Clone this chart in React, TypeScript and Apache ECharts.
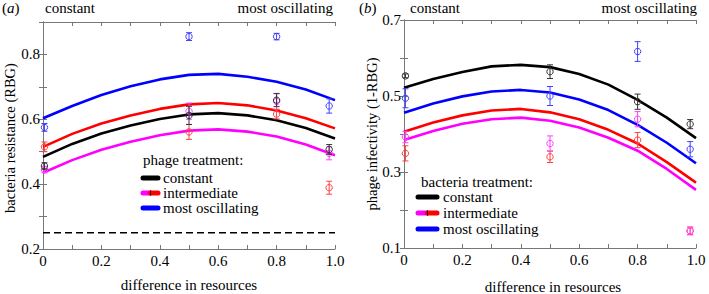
import React, { useEffect, useRef } from "react";
import * as echarts from "echarts";

// ---------- data ----------
const curveX = [0, 0.1, 0.2, 0.3, 0.4, 0.5, 0.6, 0.7, 0.8, 0.9, 1.0];

// panel (a): bacteria resistance (RBG)
const aBlueCurve = [0.603, 0.641, 0.675, 0.702, 0.723, 0.737, 0.74, 0.731, 0.716, 0.692, 0.659];
const aRedCurve = [0.515, 0.555, 0.587, 0.612, 0.632, 0.646, 0.65, 0.643, 0.627, 0.603, 0.572];
const aBlackCurve = [0.484, 0.524, 0.556, 0.581, 0.601, 0.615, 0.619, 0.612, 0.597, 0.573, 0.541];
const aMagentaCurve = [0.435, 0.474, 0.506, 0.531, 0.551, 0.565, 0.569, 0.562, 0.547, 0.522, 0.489];

const pointX = [0.005, 0.5, 0.8, 0.98];
const aBluePts = [0.575, 0.855, 0.855, 0.641];
const aBlueErr = [0.012, 0.012, 0.01, 0.022];
const aBlackPts = [0.456, 0.612, 0.659, 0.507];
const aBlackErr = [0.01, 0.028, 0.02, 0.015];
const aRedPts = [0.515, 0.561, 0.616, 0.389];
const aRedErr = [0.015, 0.023, 0.015, 0.02];
const aMagentaPts = [0.445, 0.625, 0.655, 0.495];
const aMagentaErr = [0.01, 0.025, 0.025, 0.02];
const aDashedLevel = 0.25;

// panel (b): phage infectivity (1-RBG)
const bBlackCurve = [0.522, 0.545, 0.563, 0.578, 0.582, 0.576, 0.558, 0.53, 0.49, 0.443, 0.389];
const bBlueCurve = [0.456, 0.48, 0.499, 0.512, 0.516, 0.509, 0.491, 0.463, 0.424, 0.377, 0.323];
const bRedCurve = [0.406, 0.43, 0.449, 0.462, 0.466, 0.457, 0.439, 0.411, 0.375, 0.326, 0.272];
const bMagentaCurve = [0.384, 0.408, 0.427, 0.439, 0.443, 0.435, 0.417, 0.39, 0.356, 0.308, 0.253];

const bBlackPts = [0.553, 0.564, 0.485, 0.426];
const bBlackErr = [0.005, 0.018, 0.02, 0.012];
const bBluePts = [0.494, 0.5, 0.617, 0.36];
const bBlueErr = [0.025, 0.025, 0.026, 0.02];
const bRedPts = [0.349, 0.34, 0.384, 0.145];
const bRedErr = [0.02, 0.015, 0.02, 0.01];
const bMagentaPts = [0.392, 0.375, 0.439, 0.145];
const bMagentaErr = [0.015, 0.02, 0.02, 0.01];

const legendItems = ["constant", "intermediate", "most oscillating"];
const xTickLabels = ["0", "0.2", "0.4", "0.6", "0.8", "1.0"];
const aYTickLabels = ["0.2", "0.4", "0.6", "0.8"];
const bYTickLabels = ["0.1", "0.3", "0.5", "0.7"];

// ---------- styling ----------
const FONT = "'Liberation Serif', 'Times New Roman', 'DejaVu Serif', serif";
const FS = 15;
const C = { black: "#000000", red: "#ff0000", magenta: "#ff00ff", blue: "#0000ff" };
const P = { black: "#333333", red: "#ff4040", magenta: "#ff40ff", blue: "#4040ff" };
const FRAME = "#777777";

function curveSeries(values: number[], color: string, idx: number) {
  return {
    type: "line",
    xAxisIndex: idx,
    yAxisIndex: idx,
    data: curveX.map((x, i) => [x, values[i]]),
    showSymbol: false,
    smooth: false,
    lineStyle: { color, width: 2.6 },
    z: 3,
  };
}

function errSeries(vals: number[], errs: number[], color: string, idx: number) {
  return {
    type: "custom",
    xAxisIndex: idx,
    yAxisIndex: idx,
    clip: false,
    z: 4,
    data: pointX.map((x, i) => [x, vals[i], errs[i]]),
    renderItem: (_params: any, api: any) => {
      const x = api.value(0);
      const y = api.value(1);
      const e = api.value(2);
      const p = api.coord([x, y]);
      const t = api.coord([x, y + e]);
      const b = api.coord([x, y - e]);
      const cap = 3;
      const st = { stroke: color, lineWidth: 1, fill: "none" };
      return {
        type: "group",
        children: [
          { type: "line", shape: { x1: p[0], y1: t[1], x2: p[0], y2: b[1] }, style: st },
          { type: "line", shape: { x1: p[0] - cap, y1: t[1], x2: p[0] + cap, y2: t[1] }, style: st },
          { type: "line", shape: { x1: p[0] - cap, y1: b[1], x2: p[0] + cap, y2: b[1] }, style: st },
          { type: "circle", shape: { cx: p[0], cy: p[1], r: 3.2 }, style: st },
        ],
      };
    },
  };
}

function pickLabel(v: number, labels: string[]) {
  const s = v === 0 ? "0" : v.toFixed(1);
  return labels.includes(s) ? s : "";
}

function xAxes(gridIndex: number) {
  const base = {
    type: "value",
    gridIndex,
    min: 0,
    max: 1,
    interval: 0.1,
    splitLine: { show: false },
    axisLine: { lineStyle: { color: FRAME, width: 1 } },
    axisTick: { inside: true, length: 4, lineStyle: { color: FRAME } },
  };
  return [
    {
      ...base,
      position: "bottom",
      axisLabel: {
        margin: 4,
        color: "#000",
        fontFamily: FONT,
        fontSize: FS,
        formatter: (v: number) => pickLabel(v, xTickLabels),
      },
    },
    { ...base, position: "top", axisLabel: { show: false } },
  ];
}

function yAxes(gridIndex: number, min: number, max: number, labels: string[]) {
  const base = {
    type: "value",
    gridIndex,
    min,
    max,
    interval: 0.1,
    splitLine: { show: false },
    axisLine: { show: true, lineStyle: { color: FRAME, width: 1 } },
    axisTick: { show: true, inside: true, length: 4, lineStyle: { color: FRAME } },
  };
  return [
    {
      ...base,
      position: "left",
      axisLabel: {
        margin: 3,
        color: "#000",
        fontFamily: FONT,
        fontSize: FS,
        formatter: (v: number) => pickLabel(v, labels),
      },
    },
    { ...base, position: "right", axisLabel: { show: false } },
  ];
}

function txt(text: string, x: number, y: number, align = "left", extra: any = {}, size = FS) {
  return {
    type: "text",
    x,
    y,
    z: 10,
    ...extra,
    style: {
      text,
      fill: "#000",
      fontFamily: FONT,
      fontSize: size,
      textAlign: align,
      textVerticalAlign: "middle",
    },
  };
}

function panelLabel(letter: string, x: number, y: number) {
  return {
    type: "text",
    x,
    y,
    style: {
      text: `({i|${letter}})`,
      fill: "#000",
      fontFamily: FONT,
      fontSize: FS,
      textVerticalAlign: "middle",
      rich: { i: { fontStyle: "italic", fontFamily: FONT, fontSize: FS } },
    },
  };
}

function swatch(x1: number, x2: number, y: number, color: string) {
  return {
    type: "line",
    z: 10,
    shape: { x1, y1: y, x2, y2: y },
    style: { stroke: color, lineWidth: 5, lineCap: "round" },
  };
}

function legend(titleText: string, tx: number, ty: number, sx1: number, sx2: number, textX: number, rows: number[]) {
  const mid = (sx1 + sx2) / 2;
  return [
    txt(titleText, tx, ty),
    swatch(sx1, sx2, rows[0], C.black),
    swatch(sx1, mid, rows[1], C.magenta),
    swatch(mid, sx2, rows[1], C.red),
    { type: "line", z: 11, shape: { x1: mid, y1: rows[1] - 2.5, x2: mid, y2: rows[1] + 2.5 }, style: { stroke: "#000", lineWidth: 1 } },
    swatch(sx1, sx2, rows[2], C.blue),
    txt(legendItems[0], textX, rows[0]),
    txt(legendItems[1], textX, rows[1]),
    txt(legendItems[2], textX, rows[2]),
  ];
}

export default function App() {
  const ref = useRef<HTMLDivElement>(null);
  useEffect(() => {
    if (!ref.current) return;
    const chart = echarts.init(ref.current, null, { renderer: "svg" });
    const option: any = {
      animation: false,
      backgroundColor: "#ffffff",
      textStyle: { fontFamily: FONT },
      grid: [
        { left: 43, top: 22, width: 292, height: 227 },
        { left: 404, top: 20, width: 292, height: 228 },
      ],
      xAxis: [...xAxes(0), ...xAxes(1)],
      yAxis: [...yAxes(0, 0.2, 0.9, aYTickLabels), ...yAxes(1, 0.1, 0.7, bYTickLabels)],
      series: [
        // panel a
        {
          type: "line",
          xAxisIndex: 0,
          yAxisIndex: 0,
          data: [[0, aDashedLevel], [1, aDashedLevel]],
          showSymbol: false,
          lineStyle: { color: "#000", width: 1.5, type: [7, 4] },
          z: 2,
        },
        curveSeries(aBlueCurve, C.blue, 0),
        curveSeries(aRedCurve, C.red, 0),
        curveSeries(aBlackCurve, C.black, 0),
        curveSeries(aMagentaCurve, C.magenta, 0),
        errSeries(aBluePts, aBlueErr, P.blue, 0),
        errSeries(aMagentaPts, aMagentaErr, P.magenta, 0),
        errSeries(aRedPts, aRedErr, P.red, 0),
        errSeries(aBlackPts, aBlackErr, P.black, 0),
        // panel b (xAxis [2,3], yAxis [2,3])
        curveSeries(bBlackCurve, C.black, 2),
        curveSeries(bBlueCurve, C.blue, 2),
        curveSeries(bRedCurve, C.red, 2),
        curveSeries(bMagentaCurve, C.magenta, 2),
        errSeries(bBlackPts, bBlackErr, P.black, 2),
        errSeries(bBluePts, bBlueErr, P.blue, 2),
        errSeries(bRedPts, bRedErr, P.red, 2),
        errSeries(bMagentaPts, bMagentaErr, P.magenta, 2),
      ],
      graphic: [
        panelLabel("a", 2, 8),
        txt("constant", 45, 8),
        txt("most oscillating", 333, 8, "right"),
        panelLabel("b", 359, 8),
        txt("constant", 410, 8),
        txt("most oscillating", 697, 8, "right"),
        txt("difference in resources", 189, 285, "center"),
        txt("difference in resources", 553, 287, "center"),
        txt("bacteria resistance (RBG)", 10, 138, "center", { rotation: Math.PI / 2 }, 14.5),
        txt("phage infectivity (1-RBG)", 372, 134, "center", { rotation: Math.PI / 2 }, 14.5),
        ...legend("phage treatment:", 143, 160, 143, 158, 163, [178, 193, 208]),
        ...legend("bacteria treatment:", 421, 182, 418, 437, 443, [197, 213, 229]),
      ],
    };
    chart.setOption(option);
    return () => chart.dispose();
  }, []);
  return (
    <div
      ref={ref}
      style={{ position: "fixed", left: 0, top: 0, width: 709, height: 294, background: "#fff" }}
    />
  );
}
